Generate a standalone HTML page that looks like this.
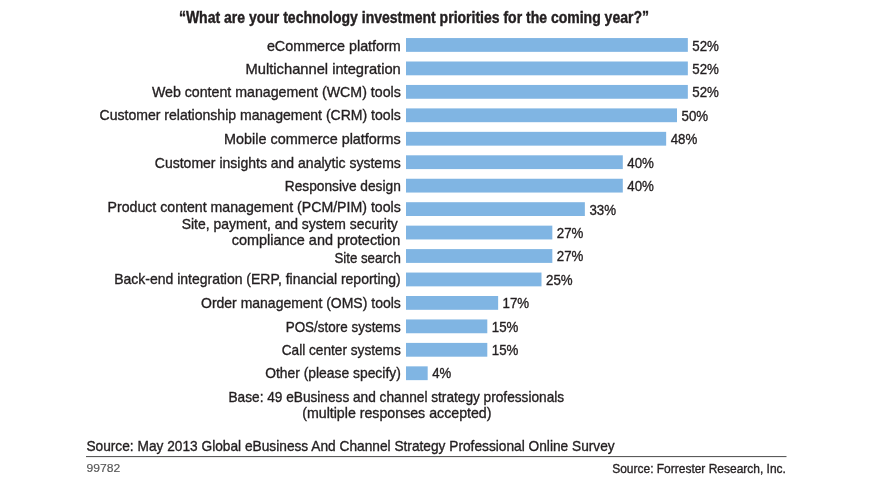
<!DOCTYPE html>
<html><head><meta charset="utf-8"><title>Chart</title>
<style>
html,body{margin:0;padding:0;background:#fff;}
body{width:873px;height:493px;overflow:hidden;}
svg{display:block;font-family:"Liberation Sans",sans-serif;will-change:transform;opacity:0.999;}
</style></head><body>
<svg width="873" height="493" viewBox="0 0 873 493">
<rect x="406.0" y="38.05" width="281.84" height="13.8" fill="#80b5e3"/>
<text x="692.3" y="51.0" font-size="14" font-weight="normal" fill="#231f20" stroke="#231f20" stroke-width="0.35" textLength="26.6" lengthAdjust="spacingAndGlyphs">52%</text>
<text x="266.9" y="50.9" font-size="14.5" font-weight="normal" fill="#231f20" stroke="#231f20" stroke-width="0.35" textLength="133.9" lengthAdjust="spacingAndGlyphs">eCommerce platform</text>
<rect x="406.0" y="61.50" width="281.84" height="13.8" fill="#80b5e3"/>
<text x="692.3" y="73.8" font-size="14" font-weight="normal" fill="#231f20" stroke="#231f20" stroke-width="0.35" textLength="26.6" lengthAdjust="spacingAndGlyphs">52%</text>
<text x="245.6" y="73.5" font-size="14.5" font-weight="normal" fill="#231f20" stroke="#231f20" stroke-width="0.35" textLength="155.2" lengthAdjust="spacingAndGlyphs">Multichannel integration</text>
<rect x="406.0" y="84.95" width="281.84" height="13.8" fill="#80b5e3"/>
<text x="692.3" y="97.2" font-size="14" font-weight="normal" fill="#231f20" stroke="#231f20" stroke-width="0.35" textLength="26.6" lengthAdjust="spacingAndGlyphs">52%</text>
<text x="151.9" y="96.9" font-size="14.5" font-weight="normal" fill="#231f20" stroke="#231f20" stroke-width="0.35" textLength="248.9" lengthAdjust="spacingAndGlyphs">Web content management (WCM) tools</text>
<rect x="406.0" y="108.40" width="271.00" height="13.8" fill="#80b5e3"/>
<text x="681.5" y="120.7" font-size="14" font-weight="normal" fill="#231f20" stroke="#231f20" stroke-width="0.35" textLength="26.6" lengthAdjust="spacingAndGlyphs">50%</text>
<text x="99.5" y="120.4" font-size="14.5" font-weight="normal" fill="#231f20" stroke="#231f20" stroke-width="0.35" textLength="301.3" lengthAdjust="spacingAndGlyphs">Customer relationship management (CRM) tools</text>
<rect x="406.0" y="131.85" width="260.16" height="13.8" fill="#80b5e3"/>
<text x="670.7" y="144.2" font-size="14" font-weight="normal" fill="#231f20" stroke="#231f20" stroke-width="0.35" textLength="26.6" lengthAdjust="spacingAndGlyphs">48%</text>
<text x="224.1" y="143.8" font-size="14.5" font-weight="normal" fill="#231f20" stroke="#231f20" stroke-width="0.35" textLength="176.7" lengthAdjust="spacingAndGlyphs">Mobile commerce platforms</text>
<rect x="406.0" y="155.30" width="216.80" height="13.8" fill="#80b5e3"/>
<text x="627.3" y="167.6" font-size="14" font-weight="normal" fill="#231f20" stroke="#231f20" stroke-width="0.35" textLength="26.6" lengthAdjust="spacingAndGlyphs">40%</text>
<text x="154.8" y="168.1" font-size="14.5" font-weight="normal" fill="#231f20" stroke="#231f20" stroke-width="0.35" textLength="246.0" lengthAdjust="spacingAndGlyphs">Customer insights and analytic systems</text>
<rect x="406.0" y="178.75" width="216.80" height="13.8" fill="#80b5e3"/>
<text x="627.3" y="191.1" font-size="14" font-weight="normal" fill="#231f20" stroke="#231f20" stroke-width="0.35" textLength="26.6" lengthAdjust="spacingAndGlyphs">40%</text>
<text x="284.8" y="191.2" font-size="14.5" font-weight="normal" fill="#231f20" stroke="#231f20" stroke-width="0.35" textLength="116.0" lengthAdjust="spacingAndGlyphs">Responsive design</text>
<rect x="406.0" y="202.20" width="178.86" height="13.8" fill="#80b5e3"/>
<text x="589.4" y="214.5" font-size="14" font-weight="normal" fill="#231f20" stroke="#231f20" stroke-width="0.35" textLength="26.6" lengthAdjust="spacingAndGlyphs">33%</text>
<text x="107.5" y="211.8" font-size="14.5" font-weight="normal" fill="#231f20" stroke="#231f20" stroke-width="0.35" textLength="293.3" lengthAdjust="spacingAndGlyphs">Product content management (PCM/PIM) tools</text>
<rect x="406.0" y="225.65" width="146.34" height="13.8" fill="#80b5e3"/>
<text x="556.8" y="237.9" font-size="14" font-weight="normal" fill="#231f20" stroke="#231f20" stroke-width="0.35" textLength="26.6" lengthAdjust="spacingAndGlyphs">27%</text>
<rect x="406.0" y="249.10" width="146.34" height="13.8" fill="#80b5e3"/>
<text x="556.8" y="261.4" font-size="14" font-weight="normal" fill="#231f20" stroke="#231f20" stroke-width="0.35" textLength="26.6" lengthAdjust="spacingAndGlyphs">27%</text>
<text x="334.4" y="263.3" font-size="14.5" font-weight="normal" fill="#231f20" stroke="#231f20" stroke-width="0.35" textLength="66.4" lengthAdjust="spacingAndGlyphs">Site search</text>
<rect x="406.0" y="272.55" width="135.50" height="13.8" fill="#80b5e3"/>
<text x="546.0" y="284.9" font-size="14" font-weight="normal" fill="#231f20" stroke="#231f20" stroke-width="0.35" textLength="26.6" lengthAdjust="spacingAndGlyphs">25%</text>
<text x="114.2" y="284.2" font-size="14.5" font-weight="normal" fill="#231f20" stroke="#231f20" stroke-width="0.35" textLength="286.6" lengthAdjust="spacingAndGlyphs">Back-end integration (ERP, financial reporting)</text>
<rect x="406.0" y="296.00" width="92.14" height="13.8" fill="#80b5e3"/>
<text x="502.6" y="308.3" font-size="14" font-weight="normal" fill="#231f20" stroke="#231f20" stroke-width="0.35" textLength="26.6" lengthAdjust="spacingAndGlyphs">17%</text>
<text x="201.0" y="308.0" font-size="14.5" font-weight="normal" fill="#231f20" stroke="#231f20" stroke-width="0.35" textLength="199.8" lengthAdjust="spacingAndGlyphs">Order management (OMS) tools</text>
<rect x="406.0" y="319.45" width="81.30" height="13.8" fill="#80b5e3"/>
<text x="491.8" y="331.8" font-size="14" font-weight="normal" fill="#231f20" stroke="#231f20" stroke-width="0.35" textLength="26.6" lengthAdjust="spacingAndGlyphs">15%</text>
<text x="285.7" y="331.9" font-size="14.5" font-weight="normal" fill="#231f20" stroke="#231f20" stroke-width="0.35" textLength="115.1" lengthAdjust="spacingAndGlyphs">POS/store systems</text>
<rect x="406.0" y="342.90" width="81.30" height="13.8" fill="#80b5e3"/>
<text x="491.8" y="355.2" font-size="14" font-weight="normal" fill="#231f20" stroke="#231f20" stroke-width="0.35" textLength="26.6" lengthAdjust="spacingAndGlyphs">15%</text>
<text x="281.7" y="354.9" font-size="14.5" font-weight="normal" fill="#231f20" stroke="#231f20" stroke-width="0.35" textLength="119.1" lengthAdjust="spacingAndGlyphs">Call center systems</text>
<rect x="406.0" y="366.35" width="21.68" height="13.8" fill="#80b5e3"/>
<text x="432.2" y="377.9" font-size="14" font-weight="normal" fill="#231f20" stroke="#231f20" stroke-width="0.35" textLength="19.0" lengthAdjust="spacingAndGlyphs">4%</text>
<text x="265.2" y="378.4" font-size="14.5" font-weight="normal" fill="#231f20" stroke="#231f20" stroke-width="0.35" textLength="135.6" lengthAdjust="spacingAndGlyphs">Other (please specify)</text>
<text x="181.7" y="229.2" font-size="14.5" font-weight="normal" fill="#231f20" stroke="#231f20" stroke-width="0.35" textLength="216.1" lengthAdjust="spacingAndGlyphs">Site, payment, and system security</text>
<text x="231.8" y="245.3" font-size="14.5" font-weight="normal" fill="#231f20" stroke="#231f20" stroke-width="0.35" textLength="168.6" lengthAdjust="spacingAndGlyphs">compliance and protection</text>
<text x="178.9" y="23.2" font-size="15.6" font-weight="bold" fill="#231f20" stroke="#231f20" stroke-width="0.4" textLength="470.1" lengthAdjust="spacingAndGlyphs">“What are your technology investment priorities for the coming year?”</text>
<text x="228.5" y="402.2" font-size="14.5" font-weight="normal" fill="#231f20" stroke="#231f20" stroke-width="0.35" textLength="335.6" lengthAdjust="spacingAndGlyphs">Base: 49 eBusiness and channel strategy professionals</text>
<text x="302.2" y="418.0" font-size="14.5" font-weight="normal" fill="#231f20" stroke="#231f20" stroke-width="0.35" textLength="189.3" lengthAdjust="spacingAndGlyphs">(multiple responses accepted)</text>
<text x="86.4" y="450.7" font-size="14.5" font-weight="normal" fill="#231f20" stroke="#231f20" stroke-width="0.35" textLength="528.3" lengthAdjust="spacingAndGlyphs">Source: May 2013 Global eBusiness And Channel Strategy Professional Online Survey</text>
<rect x="86" y="456.1" width="700.5" height="1.0" fill="#4a4a4a"/>
<text x="86.4" y="472.0" font-size="11.5" font-weight="normal" fill="#555555" stroke="#555555" stroke-width="0.15" textLength="33.8" lengthAdjust="spacingAndGlyphs">99782</text>
<text x="612.2" y="472.5" font-size="13" font-weight="normal" fill="#231f20" stroke="#231f20" stroke-width="0.35" textLength="173.7" lengthAdjust="spacingAndGlyphs">Source: Forrester Research, Inc.</text>
</svg>
</body></html>
